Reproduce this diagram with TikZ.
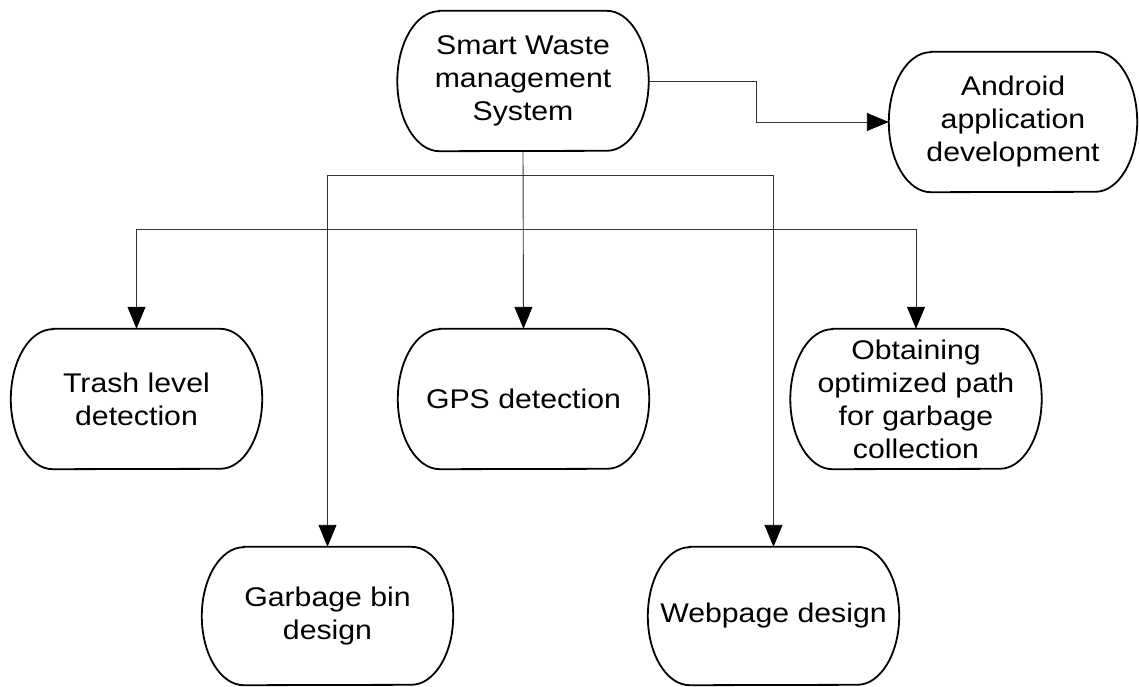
\documentclass[tikz,border=0pt]{standalone}
\usepackage{fontspec}
\setmainfont{Liberation Sans}[FakeStretch=1.12]
\usetikzlibrary{arrows.meta}
\tikzset{
  box/.style={rectangle, draw=none, minimum width=251pt, minimum height=140pt, inner sep=0pt,
    align=center, font=\fontsize{27}{33}\selectfont},
  outline/.style={draw=black, line width=1.8pt},
  conn/.style={draw=black!80, line width=0.9pt},
  arr/.style={conn, -{Triangle[length=22pt, width=18pt, color=black]}}
}
\begin{document}
\begin{tikzpicture}[x=1pt, y=1pt]
\useasboundingbox (0,0) rectangle (1139,686);
\node[box] (top) at (523,605) {Smart Waste\\management\\System};
\node[box, minimum width=248pt] (android) at (1013,564) {Android\\application\\development};
\node[box] (trash) at (136.5,287) {Trash level\\detection};
\node[box] (gps) at (523.5,287) {GPS detection};
\node[box] (opt) at (916,287) {Obtaining\\optimized path\\for garbage\\collection};
\node[box, minimum height=138pt] (bin) at (327.5,70) {Garbage bin\\design};
\node[box, minimum height=138pt] (web) at (773.5,70) {Webpage design};
\foreach \n/\h in {top/70,android/70,trash/70,gps/70,opt/70,bin/69,web/69}{
  \draw[outline] ([xshift=42pt]\n.north west) -- ([xshift=-42pt]\n.north east)
     arc[start angle=90, end angle=-90, x radius=42pt, y radius=\h pt]
     -- ([xshift=42pt]\n.south west)
     arc[start angle=270, end angle=90, x radius=42pt, y radius=\h pt]
     -- cycle;
}
\coordinate (h1) at (top.south |- 0,511);
\coordinate (h2) at (top.south |- 0,457);
\draw[arr] (top.south) -- (gps.north);
\draw[arr] (h1) -| (bin.north);
\draw[arr] (h1) -| (web.north);
\draw[arr] (h2) -| (trash.north);
\draw[arr] (h2) -| (opt.north);
\draw[arr] (top.east) -- ++(108,0) |- (android.west);
\end{tikzpicture}
\end{document}
